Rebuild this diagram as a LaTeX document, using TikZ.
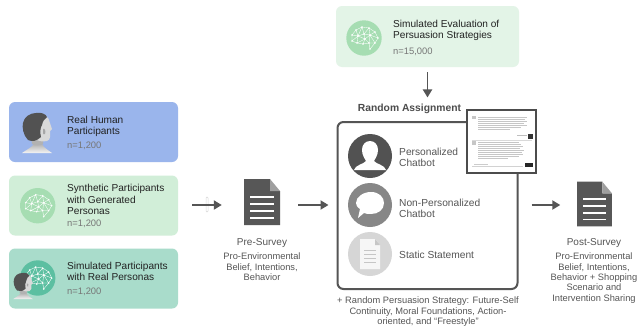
\documentclass[tikz,border=0pt]{standalone}
\usepackage{fontspec}
\setmainfont{Liberation Sans}
\usetikzlibrary{arrows.meta,calc,shadings}
\definecolor{cblue}{HTML}{9AB5EC}
\definecolor{cgreen}{HTML}{D1EED8}
\definecolor{cteal}{HTML}{A9DCCB}
\definecolor{cpale}{HTML}{E3F4E7}
\definecolor{brainA}{HTML}{A6DDB2}
\definecolor{brainB}{HTML}{5CBFA1}
\definecolor{ink}{HTML}{222222}
\definecolor{soft}{HTML}{555555}
\definecolor{nums}{HTML}{777777}
\tikzset{
  panel/.style={rounded corners=6pt,inner sep=0pt,anchor=center},
  title/.style={font=\fontsize{10.1}{11.4}\selectfont,text=ink,align=left,anchor=west,inner sep=0pt},
  count/.style={font=\fontsize{9.4}{11}\selectfont,text=nums,anchor=west,inner sep=0pt},
  optlabel/.style={font=\fontsize{10.2}{11}\selectfont,text=soft,align=left,anchor=west,inner sep=0pt},
  head/.style={font=\fontsize{10}{11}\selectfont,text=soft,align=center,inner sep=0pt},
  sub/.style={font=\fontsize{9.3}{10.3}\selectfont,text=soft,align=center,anchor=north,inner sep=0pt},
  flow/.style={draw=soft,line width=1.9pt,-{Triangle[length=8pt,width=9pt]}},
  docslot/.style={inner sep=0pt,minimum width=36pt,minimum height=46pt},
  brainicon/.pic={
    \fill[#1] (0,0) circle[radius=17.7pt];
    \foreach \a/\b in {-12/-3,-8/-8,-2/-11,5/-10,11/-6,14/0,11/5,5/5,6/11,-1/6,-7/5,-12/3,-6/-2,0/-4,6/-3,1/1}{
      \fill[white] (\a,\b) circle[radius=.8pt];}
    \draw[white,line width=.35pt,line join=round]
      (-12,-3)--(-8,-8)--(-2,-11)--(5,-10)--(11,-6)--(14,0)--(11,5)--(5,5)--(-1,6)--(-7,5)--(-12,3)--cycle
      (-12,-3)--(-6,-2)--(-8,-8) (-6,-2)--(-2,-11) (-6,-2)--(0,-4)--(-2,-11) (0,-4)--(5,-10)--(6,-3)--(0,-4)
      (6,-3)--(11,-6) (6,-3)--(14,0) (6,-3)--(11,5) (6,-3)--(1,1)--(0,-4) (1,1)--(-6,-2)--(-7,5)--(1,1)--(-1,6) (1,1)--(5,5)--(6,-3)
      (-12,3)--(-6,-2) (5,5)--(6,11) (11,5)--(6,11);
  },
  personicon/.pic={
    \path[top color=gray!60,bottom color=gray!8]
      (-15,20) .. controls (-9,16) and (-5,14) .. (-3,11) -- (5,11) .. controls (7,15) and (11,17) .. (15,20) -- cycle;
    \fill[gray!60] (-6,3) -- (6,3) -- (6,11) .. controls (2,13) and (-2,13) .. (-5,11) -- cycle;
    \fill[gray!30] (-3,-19) .. controls (6,-21) and (12,-17) .. (13,-10)
      -- (15,-4) -- (13,-2) .. controls (13.5,2) and (13.5,7) .. (10,8) .. controls (6,9) and (2,8) .. (0,7) -- cycle;
    \fill[black!68] (-1,-20) .. controls (4,-21) and (9,-19) .. (10,-16)
      .. controls (7,-14) and (6,-12) .. (5,-8) .. controls (3,-5) and (3,0) .. (4,4)
      .. controls (0,8) and (-5,9) .. (-9,7) .. controls (-14,2) and (-15,-6) .. (-14,-10)
      .. controls (-13,-16) and (-7,-20) .. (-1,-20) -- cycle;
    \fill[gray!70] (6,-4) .. controls (8,-5) and (9,-2) .. (8,1) .. controls (7,2) and (6,1) .. (6,0) -- cycle;
  },
  docicon/.pic={
    \fill[black!66] (-18,-23) -- (8,-23) -- (8,-11) -- (18,-11) -- (18,23) -- (-18,23) -- cycle;
    \fill[gray!75] (8,-23) -- (18,-11) -- (8,-11) -- cycle;
    \foreach \yy in {-5,2,9,16}{\fill[white] (-12,\yy-.8) rectangle (12,\yy+.8);}
  }
}
\begin{document}
\begin{tikzpicture}[x=1pt,y=-1pt]
\useasboundingbox[fill=white] (0,0) rectangle (637,327);
% left panels
\node[panel,fill=cblue,minimum width=169pt,minimum height=60pt] (real) at (93.5,132) {};
\node[panel,fill=cgreen,minimum width=169pt,minimum height=60pt] (synth) at (93.5,205.5) {};
\node[panel,fill=cteal,minimum width=169pt,minimum height=60pt] (simul) at (93.5,278.5) {};
\pic at (37,133) {personicon};
\pic at (37.7,205.7) {brainicon=brainA};
\pic at (37.7,278) {brainicon=brainB};
\pic[scale=.65] at (23,286) {personicon};
\node[title] (realT) at (67,126.5) {Real Human\\Participants};
\node[count] (realN) at (67,145.5) {n=1,200};
\node[title] (synthT) at (67,199.5) {Synthetic Participants\\with Generated\\Personas};
\node[count] (synthN) at (67,223.5) {n=1,200};
\node[title] (simulT) at (67,271.5) {Simulated Participants\\with Real Personas};
\node[count] (simulN) at (67,292) {n=1,200};
% top panel
\node[panel,fill=cpale,minimum width=183pt,minimum height=61pt] (eval) at (427.5,36.5) {};
\pic at (364,38) {brainicon=brainA};
\node[title] (evalT) at (393,30.5) {Simulated Evaluation of\\Persuasion Strategies};
\node[count] (evalN) at (393,52) {n=15,000};
% main box
\node[font=\fontsize{10.3}{12}\selectfont\bfseries,text=black!70,inner sep=0pt] (rand) at (409.5,109) {Random Assignment};
\node[draw=soft,line width=2pt,rounded corners=6pt,fill=white,minimum width=180pt,minimum height=167pt,inner sep=0pt] (mainbox) at (427.5,205.5) {};
% options
\node[circle,fill=black!68,minimum size=44pt,inner sep=0pt] (optA) at (370,156) {};
\fill[white] (370,141) .. controls (375,141) and (378,145) .. (378,150) .. controls (378,155) and (375,159) .. (374,161)
  .. controls (376,164) and (385,165) .. (386,170) -- (354,170) .. controls (355,165) and (364,164) .. (366,161)
  .. controls (365,159) and (362,155) .. (362,150) .. controls (362,145) and (365,141) .. (370,141) -- cycle;
\node[circle,fill=black!47,minimum size=44pt,inner sep=0pt] (optB) at (370,205) {};
\fill[white] (371,192) .. controls (379,192) and (384,197) .. (384,203) .. controls (384,210) and (378,214) .. (371,214)
  .. controls (368,214) and (366,214) .. (364,213) -- (358,218) -- (360,209) .. controls (357,207) and (356,205) .. (356,203)
  .. controls (356,197) and (363,192) .. (371,192) -- cycle;
\node[circle,fill=gray!32,minimum size=44pt,inner sep=0pt] (optC) at (370,254) {};
\fill[white!93!gray] (360,239) -- (375,239) -- (380,245) -- (380,269) -- (360,269) -- cycle;
\fill[gray!45] (375,239) -- (380,245) -- (375,245) -- cycle;
\foreach \yy in {250,254,258,262}{\draw[gray!45,line width=.5pt] (364,\yy) -- (376,\yy);}
\node[optlabel] (optAT) at (399,157) {Personalized\\Chatbot};
\node[optlabel] (optBT) at (399,208.5) {Non-Personalized\\Chatbot};
\node[optlabel] (optCT) at (399,255) {Static Statement};
% chat card
\node[draw=black!70,line width=1.2pt,fill=white,minimum width=69pt,minimum height=63pt,inner sep=0pt] (card) at (501.5,141.5) {};
\fill[gray!45] (472,116) rectangle (476,119);
\foreach \yy/\xx in {117/527,119/525,121/527,123/524,125/527,127/521,129/510}{\draw[gray!45,line width=.6pt] (478,\yy) -- (\xx,\yy);}
\draw[gray!50,line width=.55pt] (517,135.5) -- (527,135.5);
\fill[black!80] (528,134) rectangle (533,139);
\draw[gray!30,line width=.3pt] (472,140) -- (532,140);
\fill[gray!45] (472,141) rectangle (476,145);
\foreach \yy/\xx in {142/519,144/521,146/523,148/520,150/524,152/522,154/523,156/519,158/508}{\draw[gray!45,line width=.6pt] (478,\yy) -- (\xx,\yy);}
\draw[gray!35,line width=.3pt] (472,166) -- (523,166);
\draw[gray!40,line width=.5pt] (474,164) -- (488,164);
\fill[black!85] (525,162.5) rectangle (533,166.5);
% documents
\node[docslot] (doc1) at (262,205) {};
\pic at (262,202) {docicon};
\node[docslot] (doc2) at (594.5,205) {};
\pic[scale=.97] at (594.5,204) {docicon};
% connectors
\coordinate (leftin) at (192,205);
\draw[gray!30,line width=.5pt,rounded corners=1pt] (206,197) rectangle (208,212);
\draw[flow,shorten >=22pt] (leftin) -- (doc1.west);
\draw[flow,shorten <=18pt,shorten >=8pt] (doc1.east) -- (doc1.east -| mainbox.west);
\draw[flow,shorten <=13pt,shorten >=16pt] (doc2.west -| mainbox.east) -- (doc2.west);
\draw[flow,shorten <=5pt,shorten >=6.5pt] (eval.south) -- (eval.south |- rand.north);
% texts
\node[head] (preT) at (262,243) {Pre-Survey};
\node[sub] (preS) at (262,253) {Pro-Environmental\\Belief, Intentions,\\Behavior};
\node[head] (postT) at (594,243) {Post-Survey};
\node[sub] (postS) at (594,253) {Pro-Environmental\\Belief, Intentions,\\Behavior + Shopping\\Scenario and\\Intervention Sharing};
\node[sub] (cap) at (428,297) {+ Random Persuasion Strategy: Future-Self\\Continuity, Moral Foundations, Action-\\oriented, and “Freestyle”};
\end{tikzpicture}
\end{document}
